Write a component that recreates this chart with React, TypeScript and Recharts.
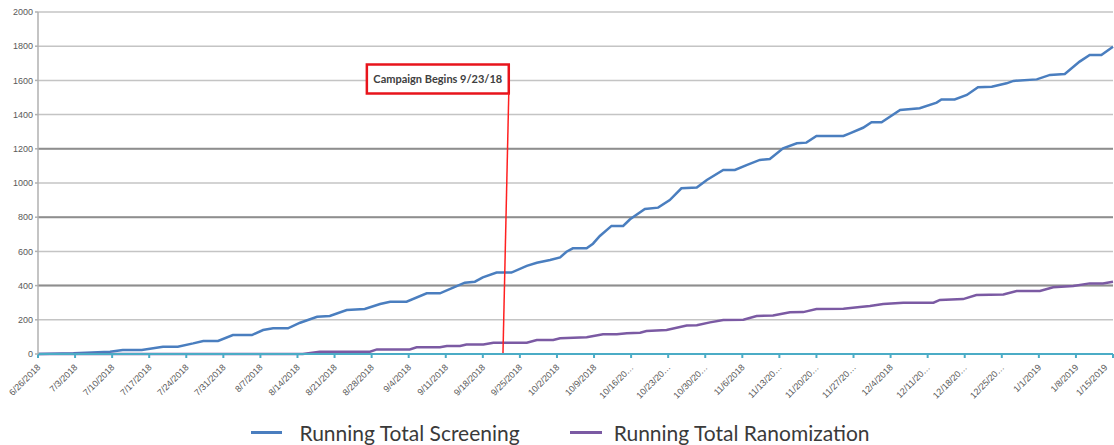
import React from 'react';
import {
  LineChart,
  Line,
  XAxis,
  YAxis,
  CartesianGrid,
  ReferenceLine,
  ReferenceArea,
  Legend
} from 'recharts';

// weekly tick labels (days counted from 6/26/2018)
const tickDays = [0, 7, 14, 21, 28, 35, 42, 49, 56, 63, 70, 77, 84, 91, 98, 105, 112, 119, 126, 133, 140, 147, 154, 161, 168, 175, 182, 189, 196, 203];
const tickLabels = [
  '6/26/2018', '7/3/2018', '7/10/2018', '7/17/2018', '7/24/2018', '7/31/2018', '8/7/2018',
  '8/14/2018', '8/21/2018', '8/28/2018', '9/4/2018', '9/11/2018', '9/18/2018', '9/25/2018',
  '10/2/2018', '10/9/2018', '10/16/20…', '10/23/20…', '10/30/20…', '11/6/2018', '11/13/20…',
  '11/20/20…', '11/27/20…', '12/4/2018', '12/11/20…', '12/18/20…', '12/25/20…', '1/1/2019',
  '1/8/2019', '1/15/2019'
];
const yTicks = [0, 200, 400, 600, 800, 1000, 1200, 1400, 1600, 1800, 2000];

const screeningDays = [
  0, 6.7, 13.6, 16, 19.6, 23.6, 26.4, 29.3, 31.2, 34, 36.8, 40.4, 42.5, 44.4, 47.2, 49.5, 52.7,
  55.1, 58.3, 61.7, 64.6, 66.5, 69.6, 73.4, 75.9, 78.4, 80.6, 82.5, 84, 86.6, 89.4, 92.3, 94.2,
  96.7, 98.6, 99.8, 101, 103.6, 104.8, 106.1, 108.3, 110.5, 111.8, 114.6, 117.1, 119.3, 121.5,
  124.4, 126.3, 129.4, 131.6, 133.8, 136.3, 138.2, 140.7, 143.3, 145.1, 147, 152.1, 153.3, 155.8,
  157.4, 159.3, 162.8, 166.5, 169.7, 170.6, 173.1, 175.4, 177.5, 180.1, 182.9, 184.2, 188.6,
  191.1, 193.9, 196.7, 198.6, 200.8, 203
];
const screeningValues = [
  0, 4, 13, 23, 23, 43, 43, 62, 76, 76, 111, 111, 140, 150, 150, 183, 218,
  222, 257, 263, 292, 306, 306, 355, 355, 388, 417, 423, 448, 476, 476, 515, 534,
  550, 565, 598, 618, 618, 645, 690, 749, 749, 788, 848, 856, 900, 969,
  973, 1018, 1076, 1076, 1105, 1135, 1140, 1203, 1232, 1236, 1275, 1275, 1290, 1323,
  1355, 1355, 1427, 1437, 1470, 1489, 1489, 1515, 1560, 1563, 1583, 1597, 1606,
  1632, 1637, 1710, 1749, 1749, 1797
];

const randomDays = [
  0, 50, 53.2, 62.7, 64, 70.2, 71.5, 75.9, 77.2, 79.7, 80.9, 84.1, 86, 92.3, 94.2, 97.3, 98.6,
  103.6, 106.7, 109.3, 111.2, 113.7, 114.9, 118.7, 122.5, 124.4, 126.9, 129.4, 133.2, 135.7,
  138.8, 142, 144.5, 147, 152.1, 155.2, 157.1, 159.6, 163.4, 169.1, 170.3, 174.7, 177.2, 182.3,
  184.8, 189.2, 191.7, 195.5, 198.6, 201.1, 203
];
const randomValues = [
  0, 0, 13, 13, 27, 27, 39, 39, 47, 47, 56, 56, 66, 66, 82, 82, 92,
  98, 115, 115, 121, 124, 134, 140, 166, 168, 185, 199, 201, 222,
  225, 244, 245, 263, 265, 275, 281, 292, 300, 300, 316, 321, 345, 348,
  368, 368, 390, 398, 413, 413, 423
];

const screeningData = screeningDays.map((d, i) => ({ day: d, value: screeningValues[i] }));
const randomData = randomDays.map((d, i) => ({ day: d, value: randomValues[i] }));

const darkGrid = [400, 800, 1200];

const XTick = (props: any) => {
  const { x, y, payload } = props;
  const idx = tickDays.indexOf(payload.value);
  // last label would run off the right edge, nudge it in
  const ax = idx === tickDays.length - 1 ? x - 5 : x + 3;
  return (
    <text
      x={ax}
      y={y + 8}
      transform={`rotate(-45 ${ax} ${y + 8})`}
      textAnchor="end"
      fontSize={9}
      fill="#595959"
      fontFamily="Liberation Sans, Arial, sans-serif"
    >
      {tickLabels[idx]}
    </text>
  );
};

const LegendContent = () => (
  <div style={{ display: 'flex', justifyContent: 'center', alignItems: 'center', fontFamily: 'Lato, sans-serif', fontSize: 21, color: '#3a3a3a', paddingLeft: 8, paddingTop: 6 }}>
    <span style={{ display: 'inline-block', width: 31, height: 3, background: '#4a7ebf', marginRight: 17 }} />
    <span style={{ marginRight: 50 }}>Running Total Screening</span>
    <span style={{ display: 'inline-block', width: 32, height: 3, background: '#7b5aa3', marginRight: 12 }} />
    <span>Running Total Ranomization</span>
  </div>
);

export default function App() {
  return (
    <div style={{ position: 'absolute', left: 0, top: 0, background: '#fff' }}>
      <LineChart width={1114} height={445} margin={{ top: 12, right: 1, left: 0, bottom: 0 }}>
        <CartesianGrid vertical={false} stroke="#c4c4c4" strokeWidth={1.5} />
        {darkGrid.map(v => (
          <ReferenceLine key={v} y={v} stroke="#8e8e8e" strokeWidth={2} />
        ))}
        <XAxis
          dataKey="day"
          type="number"
          domain={[0, 203]}
          ticks={tickDays}
          interval={0}
          height={60}
          stroke="#4bacc6"
          strokeWidth={2}
          tickSize={4}
          tick={<XTick />}
          allowDuplicatedCategory={false}
        />
        <YAxis
          domain={[0, 2000]}
          ticks={yTicks}
          width={38}
          stroke="#b0b0b0"
          strokeWidth={1.5}
          tickSize={3}
          tick={{ fontSize: 9, fill: '#595959', fontFamily: 'Liberation Sans, Arial, sans-serif' }}
        />
        <Line
          data={screeningData}
          dataKey="value"
          name="Running Total Screening"
          stroke="#4a7ebf"
          strokeWidth={2.5}
          dot={false}
          type="linear"
          isAnimationActive={false}
        />
        <Line
          data={randomData}
          dataKey="value"
          name="Running Total Ranomization"
          stroke="#7b5aa3"
          strokeWidth={2.5}
          dot={false}
          type="linear"
          isAnimationActive={false}
        />
        <ReferenceLine
          segment={[{ x: 87.8, y: 0 }, { x: 88.9, y: 1525 }]}
          stroke="#ff2020"
          strokeWidth={1.5}
        />
        <ReferenceArea
          x1={62.1}
          x2={88.9}
          y1={1523}
          y2={1693}
          fill="#ffffff"
          fillOpacity={1}
          stroke="#e8141c"
          strokeWidth={2.5}
          label={{ value: 'Campaign Begins 9/23/18', fontSize: 11, fontWeight: 700, fill: '#404040', fontFamily: 'Lato, sans-serif' }}
        />
        <Legend verticalAlign="bottom" height={31} content={<LegendContent />} />
      </LineChart>
    </div>
  );
}
